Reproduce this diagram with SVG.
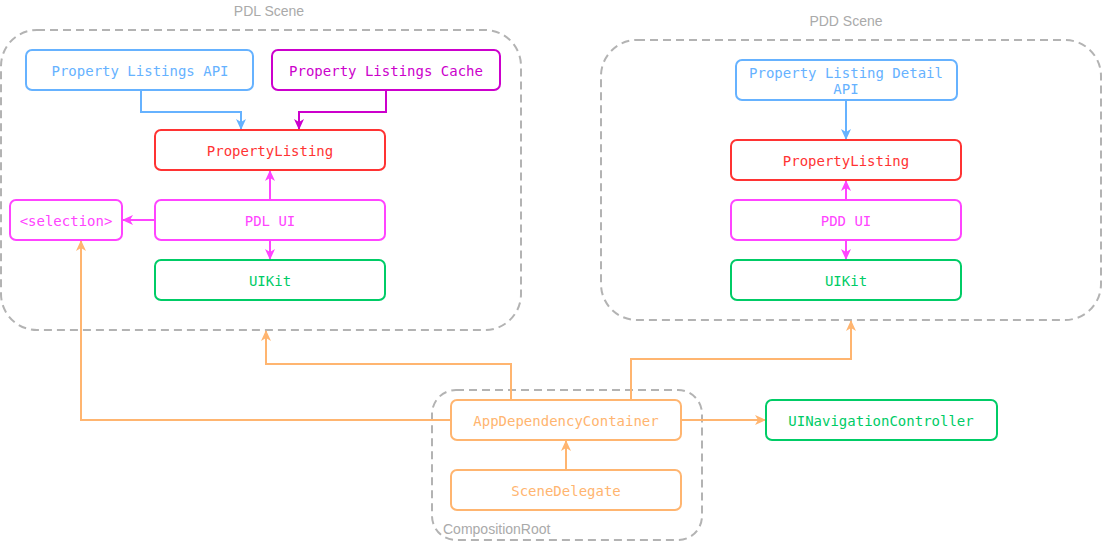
<svg xmlns="http://www.w3.org/2000/svg" width="1102" height="542" viewBox="0 0 1102 542">
<style>
.box{fill:#fff;stroke-width:2}
.t{font-family:"DejaVu Sans Mono","Liberation Mono",monospace;font-size:14px;text-anchor:middle;dominant-baseline:central}
.grp{fill:none;stroke:#b3b3b3;stroke-width:2;stroke-dasharray:8 5}
.gl{font-family:"Liberation Sans",Arial,sans-serif;font-size:14px;fill:#aaaaaa}
.c{fill:none;stroke-width:2}
.blue{stroke:#66b2ff}.blueT{fill:#66b2ff}
.mag{stroke:#cc00cc}.magT{fill:#cc00cc}
.red{stroke:#ff3333}.redT{fill:#ff3333}
.pink{stroke:#ff44ff}.pinkT{fill:#ff44ff}
.green{stroke:#00cc66}.greenT{fill:#00cc66}
.or{stroke:#ffb570}.orT{fill:#ffb570}
</style>
<defs>
<marker id="aBlue" markerWidth="11" markerHeight="11" refX="10" refY="5.5" orient="auto" markerUnits="userSpaceOnUse"><path d="M0,0.5 L11,5.5 L0,10.5 L3,5.5 Z" fill="#66b2ff"/></marker>
<marker id="aMag" markerWidth="11" markerHeight="11" refX="10" refY="5.5" orient="auto" markerUnits="userSpaceOnUse"><path d="M0,0.5 L11,5.5 L0,10.5 L3,5.5 Z" fill="#cc00cc"/></marker>
<marker id="aPink" markerWidth="11" markerHeight="11" refX="10" refY="5.5" orient="auto" markerUnits="userSpaceOnUse"><path d="M0,0.5 L11,5.5 L0,10.5 L3,5.5 Z" fill="#ff44ff"/></marker>
<marker id="aOr" markerWidth="11" markerHeight="11" refX="10" refY="5.5" orient="auto" markerUnits="userSpaceOnUse"><path d="M0,0.5 L11,5.5 L0,10.5 L3,5.5 Z" fill="#ffb570"/></marker>
</defs>

<g id="pdl-scene">
<rect class="grp" x="1" y="30" width="520" height="300" rx="36"/>
<text class="gl" x="269" y="16" text-anchor="middle">PDL Scene</text>
</g>
<g id="pdd-scene">
<rect class="grp" x="601" y="40" width="500" height="280" rx="36"/>
<text class="gl" x="846" y="26" text-anchor="middle">PDD Scene</text>
</g>
<g id="composition-root">
<rect class="grp" x="432" y="390" width="270" height="150" rx="24"/>
<text class="gl" x="443" y="534">CompositionRoot</text>
</g>

<g id="connectors">
<path class="c blue" d="M141,90 V112 H241 V129" marker-end="url(#aBlue)"/>
<path class="c mag" d="M386,90 V112 H299 V129" marker-end="url(#aMag)"/>
<path class="c pink" d="M270,200 V171" marker-end="url(#aPink)"/>
<path class="c pink" d="M270,240 V259" marker-end="url(#aPink)"/>
<path class="c pink" d="M155,220 H123" marker-end="url(#aPink)"/>
<path class="c blue" d="M846,100 V139" marker-end="url(#aBlue)"/>
<path class="c pink" d="M846,200 V181" marker-end="url(#aPink)"/>
<path class="c pink" d="M846,240 V259" marker-end="url(#aPink)"/>
<path class="c or" d="M451,420 H81 V241" marker-end="url(#aOr)"/>
<path class="c or" d="M511,400 V364 H266 V331" marker-end="url(#aOr)"/>
<path class="c or" d="M631,400 V359 H851 V321" marker-end="url(#aOr)"/>
<path class="c or" d="M681,420 H765" marker-end="url(#aOr)"/>
<path class="c or" d="M566,470 V441" marker-end="url(#aOr)"/>
</g>

<g id="pdl-api"><rect class="box blue" x="26" y="50" width="227" height="40" rx="6"/><text class="t blueT" x="140" y="71">Property Listings API</text></g>
<g id="pdl-cache"><rect class="box mag" x="272" y="50" width="228" height="40" rx="6"/><text class="t magT" x="386" y="71">Property Listings Cache</text></g>
<g id="pdl-propertylisting"><rect class="box red" x="155" y="130" width="230" height="40" rx="6"/><text class="t redT" x="270" y="151">PropertyListing</text></g>
<g id="selection"><rect class="box pink" x="10" y="200" width="112" height="40" rx="6"/><text class="t pinkT" x="66" y="221">&lt;selection&gt;</text></g>
<g id="pdl-ui"><rect class="box pink" x="155" y="200" width="230" height="40" rx="6"/><text class="t pinkT" x="270" y="221">PDL UI</text></g>
<g id="pdl-uikit"><rect class="box green" x="155" y="260" width="230" height="40" rx="6"/><text class="t greenT" x="270" y="281">UIKit</text></g>

<g id="pdd-api"><rect class="box blue" x="736" y="60" width="221" height="40" rx="6"/><text class="t blueT" x="846" y="73">Property Listing Detail</text><text class="t blueT" x="846" y="89">API</text></g>
<g id="pdd-propertylisting"><rect class="box red" x="731" y="140" width="230" height="40" rx="6"/><text class="t redT" x="846" y="161">PropertyListing</text></g>
<g id="pdd-ui"><rect class="box pink" x="731" y="200" width="230" height="40" rx="6"/><text class="t pinkT" x="846" y="221">PDD UI</text></g>
<g id="pdd-uikit"><rect class="box green" x="731" y="260" width="230" height="40" rx="6"/><text class="t greenT" x="846" y="281">UIKit</text></g>

<g id="app-dependency-container"><rect class="box or" x="451" y="400" width="230" height="40" rx="6"/><text class="t orT" x="566" y="421">AppDependencyContainer</text></g>
<g id="scene-delegate"><rect class="box or" x="451" y="470" width="230" height="40" rx="6"/><text class="t orT" x="566" y="491">SceneDelegate</text></g>
<g id="ui-navigation-controller"><rect class="box green" x="766" y="400" width="231" height="40" rx="6"/><text class="t greenT" x="881" y="421">UINavigationController</text></g>
</svg>
